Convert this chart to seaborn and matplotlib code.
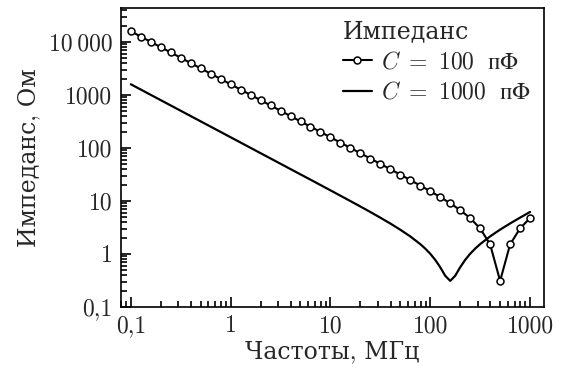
import numpy as np
import pandas as pd
import matplotlib
matplotlib.use("Agg")
import matplotlib.pyplot as plt
import seaborn as sns

# Frequencies (MHz), 0.1-decade grid from 0.1 to 1000
freq_100 = [0.1, 0.1259, 0.1585, 0.1995, 0.2512, 0.3162, 0.3981, 0.5012, 0.6310, 0.7943,
            1.0, 1.259, 1.585, 1.995, 2.512, 3.162, 3.981, 5.012, 6.310, 7.943,
            10.0, 12.59, 15.85, 19.95, 25.12, 31.62, 39.81, 50.12, 63.10, 79.43,
            100.0, 125.9, 158.5, 199.5, 251.2, 316.2, 398.1, 501.2, 631.0, 794.3, 1000.0]
imp_100 = [15915, 12642, 10042, 7976, 6336, 5033, 3998, 3176, 2522, 2004,
           1591, 1264, 1004, 797.6, 633.6, 503.3, 399.8, 317.5, 252.2, 200.4,
           159.1, 126.3, 100.3, 79.6, 63.2, 50.1, 39.7, 31.4, 24.8, 19.5,
           15.28, 11.84, 9.04, 6.71, 4.74, 3.03, 1.51, 0.31, 1.51, 3.04, 4.75]

freq_1000 = [0.1, 0.1259, 0.1585, 0.1995, 0.2512, 0.3162, 0.3981, 0.5012, 0.6310, 0.7943,
             1.0, 1.259, 1.585, 1.995, 2.512, 3.162, 3.981, 5.012, 6.310, 7.943,
             10.0, 12.59, 15.85, 19.95, 25.12, 31.62, 39.81, 50.12, 63.10, 79.43,
             89.13, 100.0, 112.2, 125.9, 141.3, 158.5, 177.8, 199.5, 223.9, 251.2,
             281.8, 316.2, 398.1, 501.2, 631.0, 794.3, 1000.0]
imp_1000 = [1591, 1264, 1004, 797.6, 633.6, 503.3, 399.8, 317.5, 252.2, 200.4,
            159.1, 126.4, 100.4, 79.7, 63.3, 50.3, 39.9, 31.7, 25.2, 20.0,
            15.85, 12.56, 9.94, 7.85, 6.18, 4.83, 3.75, 2.86, 2.14, 1.53,
            1.26, 1.007, 0.772, 0.56, 0.387, 0.31, 0.387, 0.56, 0.772, 1.007,
            1.26, 1.53, 2.145, 2.875, 3.76, 4.84, 6.19]

x_ticks = [0.1, 1, 10, 100, 1000]
x_ticklabels = ["0,1", "1", "10", "100", "1000"]
y_ticks = [0.1, 1, 10, 100, 1000, 10000]
y_ticklabels = ["0,1", "1", "10", "100", "1000", "10\u2009000"]

label_100 = r"$C\ =\ 100\ \ \mathrm{пФ}$"
label_1000 = r"$C\ =\ 1000\ \ \mathrm{пФ}$"

sns.set_style("ticks")
plt.rcParams["font.family"] = ["cmr10", "DejaVu Serif"]
plt.rcParams["mathtext.fontset"] = "custom"
plt.rcParams["mathtext.rm"] = "cmr10"
plt.rcParams["mathtext.it"] = "cmmi10"
plt.rcParams["mathtext.fallback"] = "stix"
plt.rcParams["axes.formatter.use_mathtext"] = True

fig = plt.figure(figsize=(5.62, 3.68), dpi=100)
ax = fig.add_axes([0.215, 0.166, 0.753, 0.812])

df100 = pd.DataFrame({"f": freq_100, "z": imp_100})
df1000 = pd.DataFrame({"f": freq_1000, "z": imp_1000})

sns.lineplot(data=df100, x="f", y="z", ax=ax, color="black", lw=1.5,
             marker="o", markersize=5, markerfacecolor="white",
             markeredgecolor="black", markeredgewidth=1.1, label=label_100)
sns.lineplot(data=df1000, x="f", y="z", ax=ax, color="black", lw=1.6,
             label=label_1000)

ax.set_xscale("log")
ax.set_yscale("log")
ax.set_xlim(0.0794, 1380)
ax.set_ylim(0.1, 43600)

ax.set_xticks(x_ticks)
ax.set_xticklabels(x_ticklabels)
ax.set_yticks(y_ticks)
ax.set_yticklabels(y_ticklabels)
ax.xaxis.set_minor_locator(matplotlib.ticker.LogLocator(base=10, subs=np.arange(2, 10), numticks=20))
ax.yaxis.set_minor_locator(matplotlib.ticker.LogLocator(base=10, subs=np.arange(2, 10), numticks=20))
ax.xaxis.set_minor_formatter(matplotlib.ticker.NullFormatter())
ax.yaxis.set_minor_formatter(matplotlib.ticker.NullFormatter())

ax.tick_params(which="both", direction="in", top=False, right=False,
               labelsize=17, width=1.2, color="black")
ax.tick_params(which="major", length=7, pad=6)
ax.tick_params(which="minor", length=4)
for s in ax.spines.values():
    s.set_linewidth(1.2)
    s.set_color("black")

ax.set_xlabel("Частоты, МГц", fontsize=17, labelpad=2)
ax.set_ylabel("Импеданс, Ом", fontsize=17, labelpad=6)

leg = ax.legend(title="Импеданс", loc="upper right", frameon=False,
                fontsize=17, title_fontsize=17, alignment="left",
                handlelength=1.2, handletextpad=0.4, borderaxespad=0.1,
                labelspacing=0.35, borderpad=0.45)

fig.savefig("out.png", dpi=100)
